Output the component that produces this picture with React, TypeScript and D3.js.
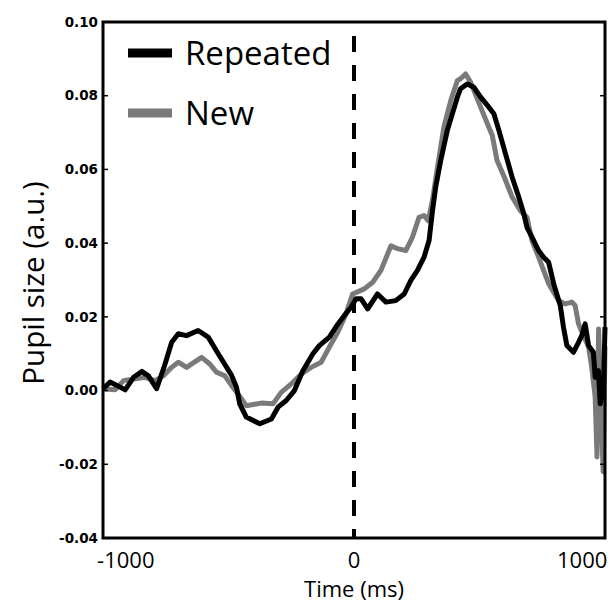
import React from 'react'
import * as d3 from 'd3'

// time (ms) and pupil size (a.u.)
const repeatedTime = [
  -1100, -1069, -1039, -1003, -966, -930, -901, -865, -828, -799, -770, -734, -683, -639, -595,
  -537, -515, -501, -472, -413, -362, -333, -297, -261, -224, -180, -152, -108, -71, -42, -13,
  9, 31, 60, 103, 140, 183, 220, 249, 278, 307, 329, 344, 358, 380, 409, 431, 453, 467, 497,
  525, 555, 591, 613, 635, 664, 693, 722, 744, 758, 780, 809, 831, 853, 875, 904, 918, 933,
  962, 984, 998, 1013, 1028, 1049, 1057, 1071, 1079, 1093, 1100,
]
const repeatedValue = [
  0.0005, 0.0023, 0.0014, 0.0002, 0.0036, 0.0052, 0.004, 0.0005, 0.0072, 0.0131, 0.0154, 0.0149,
  0.0163, 0.0145, 0.01, 0.0042, 0.0009, -0.0036, -0.0072, -0.009, -0.0077, -0.0045, -0.0027, 0,
  0.0054, 0.01, 0.0122, 0.0145, 0.018, 0.0204, 0.0226, 0.0249, 0.0249, 0.0222, 0.0262, 0.024,
  0.0244, 0.0262, 0.0299, 0.0326, 0.0362, 0.0407, 0.0488, 0.0552, 0.0624, 0.0706, 0.0751, 0.0796,
  0.0819, 0.0832, 0.0823, 0.0796, 0.0769, 0.0751, 0.0706, 0.0642, 0.0579, 0.0525, 0.048, 0.0443,
  0.0416, 0.038, 0.0362, 0.0348, 0.029, 0.0231, 0.0172, 0.0122, 0.0104, 0.0131, 0.0149, 0.0181,
  0.0122, 0.0104, 0.0036, 0.0054, -0.0036, 0, 0.0172,
]

const newTime = [
  -1100, -1047, -1010, -959, -916, -872, -835, -799, -770, -734, -668, -632, -603, -566, -537,
  -508, -472, -406, -355, -319, -275, -231, -188, -144, -108, -71, -35, -6, 45, 82, 118, 162,
  191, 227, 256, 285, 307, 325, 344, 366, 394, 424, 453, 467, 489, 511, 540, 576, 606, 627, 656,
  693, 729, 758, 780, 809, 831, 853, 897, 926, 955, 969, 984, 1006, 1028, 1042, 1057, 1065, 1072,
  1082, 1092, 1100,
]
const newValue = [
  0.0005, 0.0002, 0.0027, 0.0032, 0.0036, 0.0027, 0.004, 0.0063, 0.0077, 0.0063, 0.009, 0.0072,
  0.005, 0.004, 0.0014, -0.0009, -0.0041, -0.0034, -0.0036, -0.0005, 0.0018, 0.0045, 0.0063,
  0.0077, 0.0118, 0.0158, 0.0208, 0.0262, 0.0276, 0.0294, 0.0326, 0.0393, 0.0385, 0.038, 0.0416,
  0.047, 0.0475, 0.0461, 0.0516, 0.0606, 0.0715, 0.0787, 0.0841, 0.0846, 0.0859, 0.0837, 0.0792,
  0.0737, 0.0692, 0.0624, 0.0583, 0.0525, 0.0488, 0.047, 0.0407, 0.0362, 0.0326, 0.029, 0.0244,
  0.0235, 0.024, 0.0231, 0.0181, 0.0149, 0.0118, 0.0063, -0.0018, -0.018, 0.0167, -0.004, -0.022,
  0.012,
]

const seriesNames = ['Repeated', 'New']
const xTicks = [-1000, 0, 1000]
const yTicks = [-0.04, -0.02, 0, 0.02, 0.04, 0.06, 0.08, 0.1]

const width = 614
const height = 607
const margin = { top: 22, right: 9, bottom: 69, left: 103 }

const App = () => {
  const x = d3.scaleLinear().domain([-1100, 1100]).range([margin.left, width - margin.right])
  const y = d3.scaleLinear().domain([-0.04, 0.1]).range([height - margin.bottom, margin.top])

  const line = d3
    .line<[number, number]>()
    .x((d) => x(d[0]))
    .y((d) => y(d[1]))

  const repeated = d3.zip(repeatedTime, repeatedValue) as [number, number][]
  const newer = d3.zip(newTime, newValue) as [number, number][]
  // plain hyphen for negatives, like the original
  const fmt = (v: number) => d3.format('.2f')(v).replace('\u2212', '-')
  const sans = '"Open Sans", "Noto Sans", sans-serif'
  const colors = ['#000', '#7a7a7a']

  const [x0, x1] = x.range()
  const [yb, yt] = y.range()

  return (
    <svg width={width} height={height} style={{ position: 'absolute', left: 0, top: 0, background: '#fff' }}>
      <rect width={width} height={height} fill="#fff" />

      {/* zero line */}
      <line x1={x(0)} x2={x(0)} y1={36} y2={yb} stroke="#000" strokeWidth={4} strokeDasharray="16,13" />

      <path d={line(newer) ?? ''} fill="none" stroke={colors[1]} strokeWidth={5} strokeLinejoin="round" />
      <path d={line(repeated) ?? ''} fill="none" stroke={colors[0]} strokeWidth={5} strokeLinejoin="round" />

      {/* frame and ticks */}
      <rect x={x0} y={yt} width={x1 - x0} height={yb - yt} fill="none" stroke="#000" strokeWidth={3} />
      {yTicks.map((t) => (
        <g key={t}>
          <line x1={x0} x2={x0 + 5} y1={y(t)} y2={y(t)} stroke="#000" strokeWidth={1.5} />
          <line x1={x1} x2={x1 - 5} y1={y(t)} y2={y(t)} stroke="#000" strokeWidth={1.5} />
          <text
            x={x0 - 5}
            y={y(t)}
            dy="0.35em"
            textAnchor="end"
            fontFamily='"DejaVu Sans", sans-serif'
            fontWeight="bold"
            fontSize={13.5}
          >
            {fmt(t)}
          </text>
        </g>
      ))}
      {xTicks.map((t) => (
        <text key={t} x={x(t)} y={568} textAnchor="middle" fontFamily={sans} fontSize={22}>
          {t}
        </text>
      ))}

      <text x={(x0 + x1) / 2} y={597} textAnchor="middle" fontFamily={sans} fontSize={22}>
        Time (ms)
      </text>
      <text
        transform={`translate(44, 283) rotate(-90)`}
        textAnchor="middle"
        fontFamily={sans}
        fontSize={29.5}
      >
        Pupil size (a.u.)
      </text>

      {/* legend */}
      {seriesNames.map((name, i) => (
        <g key={name} transform={`translate(128, ${53 + i * 60})`}>
          <line x1={0} x2={44} y1={0} y2={0} stroke={colors[i]} strokeWidth={9} />
          <text x={57} y={0} dy="0.35em" fontFamily={sans} fontSize={33}>
            {name}
          </text>
        </g>
      ))}
    </svg>
  )
}

export default App
